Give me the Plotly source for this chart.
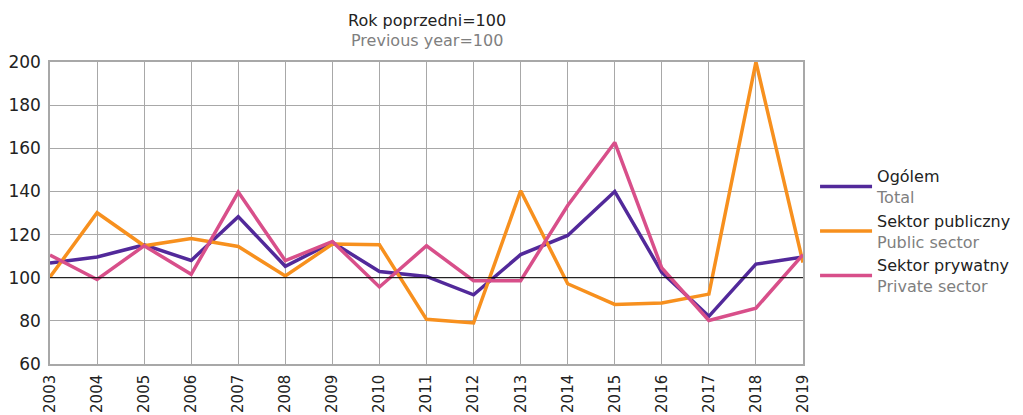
import plotly.graph_objects as go

years = list(range(2003, 2020))
year_labels = [str(y) for y in years]
ogolem = [106.8, 109.6, 115.2, 108.0, 128.3, 105.3, 116.4, 102.9, 100.6, 92.1,
          110.7, 119.6, 140.0, 102.5, 82.1, 106.3, 109.6]
publiczny = [100.3, 130.1, 114.8, 118.2, 114.5, 100.8, 115.6, 115.3, 80.7, 79.0,
             140.3, 97.2, 87.6, 88.3, 92.4, 200.0, 107.0]
prywatny = [110.5, 99.2, 114.8, 101.6, 139.7, 107.9, 116.8, 95.7, 114.8, 98.6,
            98.6, 133.5, 162.7, 104.5, 80.2, 85.9, 110.7]
y_ticks = [60, 80, 100, 120, 140, 160, 180, 200]

series = [
    ("Ogólem", "Total", ogolem, "#52299a"),
    ("Sektor publiczny", "Public sector", publiczny, "#f7901e"),
    ("Sektor prywatny", "Private sector", prywatny, "#d84f8a"),
]

FONT = "DejaVu Sans"
GRAY_TXT = "#7f7f7f"
GRID = "#a8a8a8"

fig = go.Figure()
for pl, en, vals, col in series:
    fig.add_trace(go.Scatter(
        x=years, y=vals, mode="lines",
        name=f"{pl}<br><span style='color:{GRAY_TXT}'>{en}</span>",
        line=dict(color=col, width=3.5),
        cliponaxis=False,
    ))

fig.add_shape(type="line", xref="paper", x0=0, x1=1, yref="y", y0=100, y1=100,
              line=dict(color="#000000", width=1), layer="above")

fig.add_annotation(text="Rok poprzedni=100", xref="paper", yref="paper",
                   x=0.5, y=1.139, xanchor="center", yanchor="middle",
                   showarrow=False, font=dict(family=FONT, size=16, color="#222222"))
fig.add_annotation(text="Previous year=100", xref="paper", yref="paper",
                   x=0.5, y=1.0696, xanchor="center", yanchor="middle",
                   showarrow=False, font=dict(family=FONT, size=16, color=GRAY_TXT))

fig.update_layout(
    width=1015, height=407,
    margin=dict(l=42, r=220, t=54, b=51, autoexpand=False),
    paper_bgcolor="white", plot_bgcolor="white",
    font=dict(family=FONT, size=16, color="#222222"),
    xaxis=dict(
        range=[2003, 2019], tickmode="array", tickvals=years, ticktext=year_labels,
        tickangle=-90, showgrid=True, gridcolor=GRID, gridwidth=1,
        showline=True, linecolor=GRID, linewidth=1.5, mirror=True,
        ticks="", zeroline=False, tickfont=dict(size=15),
        automargin=False, ticklabelstandoff=3,
    ),
    yaxis=dict(
        range=[60, 200], tickmode="array", tickvals=y_ticks,
        showgrid=True, gridcolor=GRID, gridwidth=1,
        showline=True, linecolor=GRID, linewidth=1.5, mirror=True,
        ticks="", zeroline=False, tickfont=dict(size=17),
        automargin=False, ticklabelstandoff=4,
    ),
    legend=dict(
        x=1.016, xanchor="left", y=0.44, yanchor="middle",
        font=dict(family=FONT, size=16, color="#222222"),
        itemwidth=52, tracegroupgap=4, valign="middle",
        bgcolor="rgba(0,0,0,0)",
    ),
    showlegend=True,
)

fig.write_html("out.html")
